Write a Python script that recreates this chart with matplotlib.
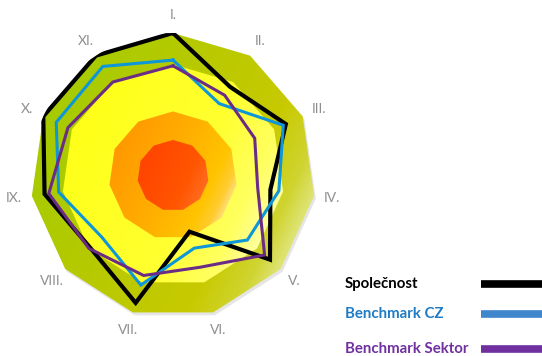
import numpy as np
import matplotlib
matplotlib.use("Agg")
import matplotlib.pyplot as plt
from matplotlib.colors import LinearSegmentedColormap
from matplotlib.patches import Polygon

# axis labels (clockwise from top)
axes_labels = ["I.", "II.", "III.", "IV.", "V.", "VI.", "VII.", "VIII.", "IX.", "X.", "XI."]

# values, scale 0-100
spolecnost = [100, 74, 87, 69, 90, 41, 93, 77, 91, 100, 100]
benchmark_cz = [81, 60, 85, 75, 69, 53, 80, 66, 81, 90, 91]
benchmark_sektor = [77, 67, 63, 60, 85, 67, 73, 78, 88, 81, 78]

series_names = ["Společnost", "Benchmark CZ", "Benchmark Sektor"]

# background bands (outer limit of each zone)
band_limits = [100, 78, 45, 25]
band_colors = [
    [(0, "#a6cb00"), (0.5, "#bcc900"), (0.75, "#c8ca00"), (0.9, "#d0d430"), (1, "#e2e888")],
    [(0, "#ffff18"), (0.6, "#ffff30"), (0.85, "#ffff60"), (1, "#ffffa8")],
    [(0, "#ff9800"), (0.5, "#ffb000"), (0.8, "#ffc400"), (0.92, "#ffcc30"), (1, "#ffe088")],
    [(0, "#ff4400"), (0.7, "#ff5500"), (1, "#ff6c20")],
]

line_colors = ["#000000", "#0e96d8", "#6b2c86"]
line_widths = [3.0, 2.2, 2.2]
legend_text_colors = ["#000000", "#1f7bc4", "#7030a0"]
legend_bar_colors = ["#000000", "#3f86cc", "#7030a0"]

n = len(axes_labels)
theta = np.arange(n) * 2 * np.pi / n

fig = plt.figure(figsize=(5.42, 3.56), dpi=100)
W, H = 542, 356
cx, cy, R = 173, 175.6, 142.6
pos = [(cx - R) / W, (H - cy - R) / H, 2 * R / W, 2 * R / H]

# gradient background bands in a plain axes underneath
E = 1.05
bg = fig.add_axes([(cx - R * E) / W, (H - cy - R * E) / H, 2 * E * R / W, 2 * E * R / H])
bg.set_xlim(-E, E)
bg.set_ylim(-E, E)
bg.axis("off")
gx, gy = np.meshgrid(np.linspace(-E, E, 420), np.linspace(E, -E, 420))
ang = np.deg2rad(-25)
for i, (lim, cols) in enumerate(zip(band_limits, band_colors)):
    r = lim / 100
    verts = np.column_stack([r * np.sin(theta), r * np.cos(theta)])
    if i == 0:
        # soft shadow under the outer shape
        bg.add_patch(Polygon(verts + [0.012, -0.02], closed=True, facecolor="#000000",
                             alpha=0.1, edgecolor="none", zorder=-5))
    # lighter toward the right / lower right
    t = np.clip(((gx * np.cos(ang) + gy * np.sin(ang)) / r + 1) / 2, 0, 1)
    cmap = LinearSegmentedColormap.from_list("band", cols)
    poly = Polygon(verts, closed=True, facecolor="none", edgecolor="none")
    bg.add_patch(poly)
    im = bg.imshow(t, cmap=cmap, extent=(-E, E, -E, E), vmin=0, vmax=1,
                   interpolation="bilinear", aspect="auto", zorder=i)
    im.set_clip_path(poly)

# radar lines
ax = fig.add_axes(pos, projection="polar")
ax.set_theta_zero_location("N")
ax.set_theta_direction(-1)
ax.patch.set_alpha(0)
for vals, c, lw in zip([spolecnost, benchmark_cz, benchmark_sektor], line_colors, line_widths):
    v = np.array(vals + vals[:1]) / 100
    ax.plot(np.append(theta, theta[0]), v, color=c, lw=lw, solid_joinstyle="miter")
ax.set_ylim(0, 1)
ax.set_xticks([])
ax.set_yticks([])
ax.grid(False)
ax.spines["polar"].set_visible(False)
for th, lab in zip(theta, axes_labels):
    ax.text(th, 1.125, lab, ha="center", va="center", fontsize=10,
            color="#8f8f8f", family="Lato", clip_on=False)

# legend drawn in a pixel-coordinate overlay
lax = fig.add_axes([0, 0, 1, 1])
lax.set_xlim(0, W)
lax.set_ylim(H, 0)
lax.axis("off")
rows_y = [284, 314, 349]
for name, y, tc, bc in zip(series_names, rows_y, legend_text_colors, legend_bar_colors):
    lax.text(345, y, name, ha="left", va="center", fontsize=10.8, fontweight="bold",
             color=tc, family="Lato")
    lax.plot([481, 545], [y, y], color=bc, lw=5.5, solid_capstyle="butt")

fig.savefig("out.png", dpi=100)
